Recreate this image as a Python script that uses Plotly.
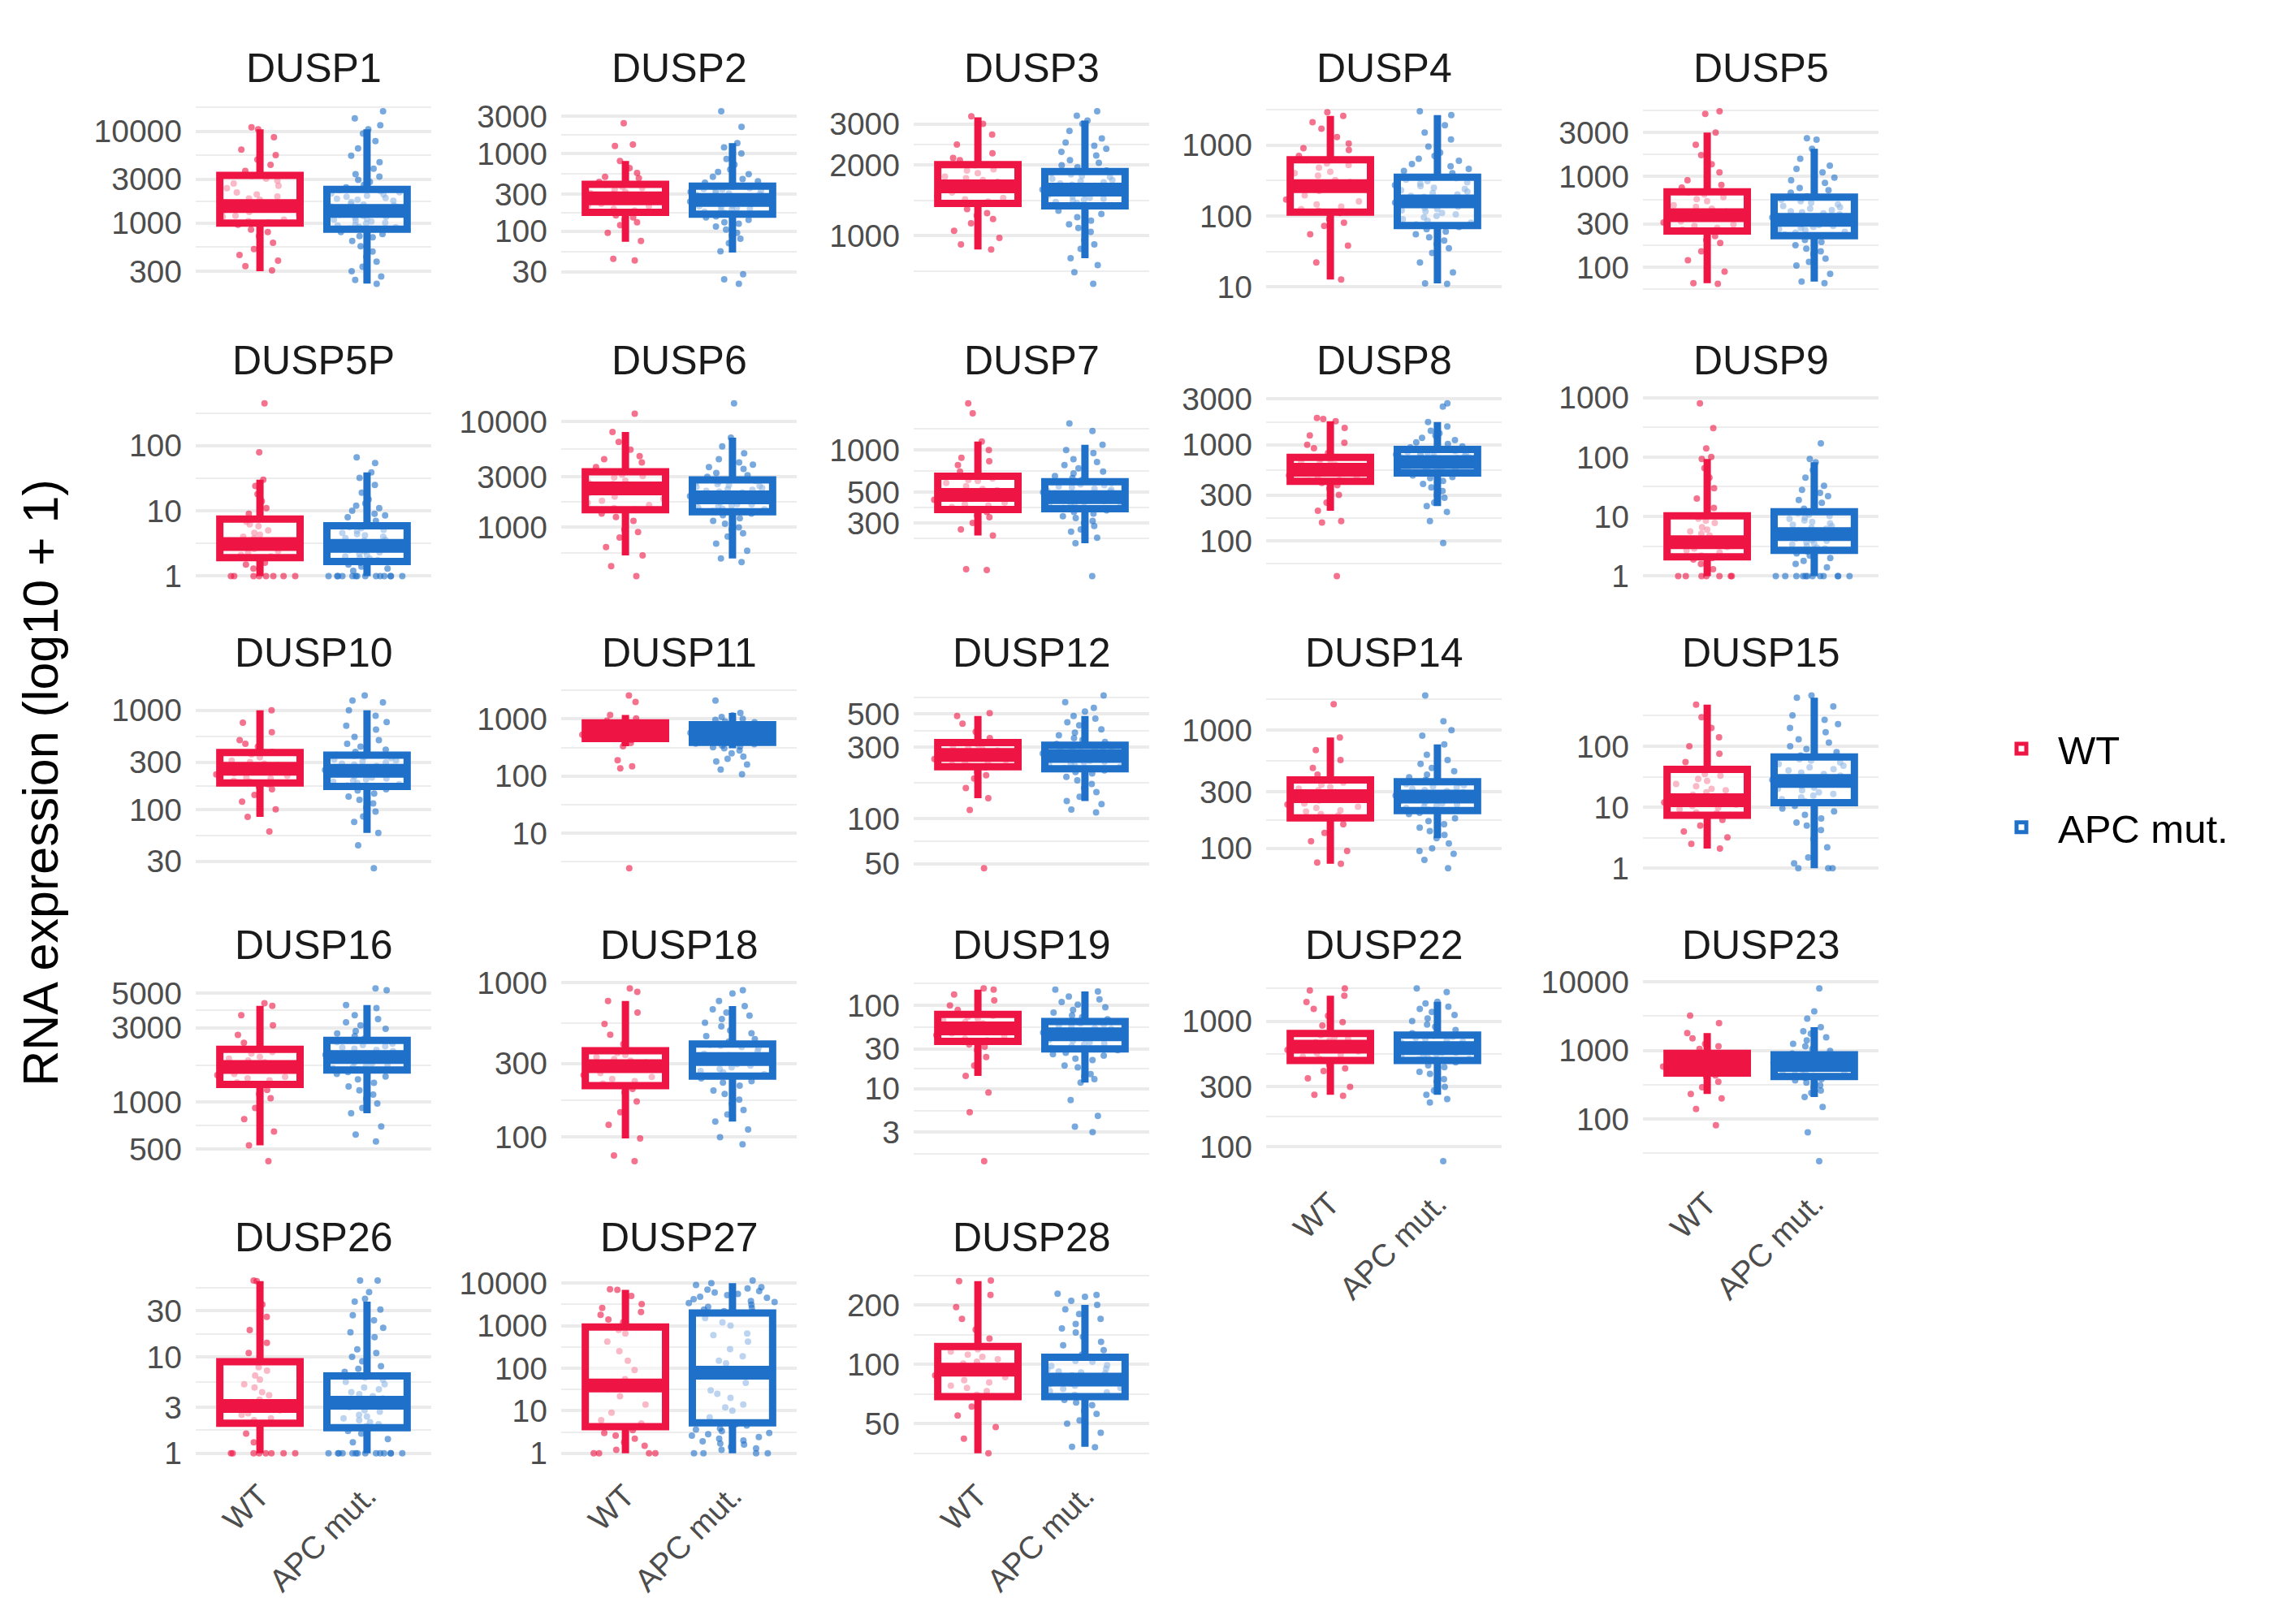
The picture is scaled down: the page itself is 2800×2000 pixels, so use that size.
import math
import plotly.graph_objects as go

# facet panels, in facet order
genes = ['DUSP1', 'DUSP2', 'DUSP3', 'DUSP4', 'DUSP5',
         'DUSP5P', 'DUSP6', 'DUSP7', 'DUSP8', 'DUSP9',
         'DUSP10', 'DUSP11', 'DUSP12', 'DUSP14', 'DUSP15',
         'DUSP16', 'DUSP18', 'DUSP19', 'DUSP22', 'DUSP23',
         'DUSP26', 'DUSP27', 'DUSP28']

groups = ['WT', 'APC mut.']

# y axis breaks per panel
y_breaks = [
    [300, 1000, 3000, 10000], [30, 100, 300, 1000, 3000], [1000, 2000, 3000],
    [10, 100, 1000], [100, 300, 1000, 3000],
    [1, 10, 100], [1000, 3000, 10000], [300, 500, 1000],
    [100, 300, 1000, 3000], [1, 10, 100, 1000],
    [30, 100, 300, 1000], [10, 100, 1000], [50, 100, 300, 500],
    [100, 300, 1000], [1, 10, 100],
    [500, 1000, 3000, 5000], [100, 300, 1000], [3, 10, 30, 100],
    [100, 300, 1000], [100, 1000, 10000],
    [1, 3, 10, 30], [1, 10, 100, 1000, 10000], [50, 100, 200],
]

# box statistics: lower whisker, q1, median, q3, upper whisker
wt_box = [
    [300, 1000, 1530, 3300, 10500], [73, 175, 265, 400, 800], [874, 1376, 1626, 2010, 3200],
    [12.7, 113, 262, 619, 2575], [67, 250, 373, 671, 3000],
    [1, 1.92, 3.1, 7.5, 30], [543, 1464, 2330, 3340, 7950], [244, 374, 476, 649, 1150],
    [206, 417, 548, 740, 1760], [1, 2.1, 3.7, 10.3, 93],
    [84, 185, 257, 375, 1000], [333, 455, 600, 855, 1170], [137, 222, 266, 322, 485],
    [74, 181, 277, 380, 867], [2.1, 7.4, 13, 41.7, 480],
    [530, 1300, 1683, 2180, 4130], [98, 215, 288, 362, 760], [14.2, 37, 53, 78, 155],
    [259, 486, 627, 796, 1594], [232, 468, 658, 907, 1794],
    [1, 2.05, 3.1, 8.9, 61], [1, 4.2, 39, 930, 6960], [35.4, 68.5, 94, 123, 264],
]
apc_box = [
    [220, 860, 1355, 2330, 10500], [53, 166, 252, 380, 1360], [802, 1343, 1575, 1880, 3100],
    [11.2, 73, 160, 351, 2640], [70, 223, 331, 589, 1990],
    [1, 1.67, 2.9, 5.9, 39], [508, 1400, 1920, 2800, 7000], [215, 380, 460, 593, 1090],
    [230, 508, 661, 893, 1720], [1, 2.7, 5.05, 12, 82],
    [58, 171, 245, 352, 1000], [307, 390, 560, 790, 1270], [131, 215, 262, 309, 485],
    [122, 209, 274, 366, 760], [1, 11.9, 26.9, 66.5, 625],
    [850, 1606, 1945, 2490, 4180], [126, 248, 320, 400, 705], [11.8, 30, 44.9, 64, 147],
    [259, 486, 610, 775, 1425], [210, 416, 612, 864, 2180],
    [1, 1.84, 3.35, 6.35, 37.5], [1, 5.2, 78, 1976, 10000], [38.2, 68.5, 83.6, 108.5, 200],
]

# individual samples (estimated from the jittered points)
wt_points = [
    [305, 340, 390, 450, 520, 610, 720, 850, 960, 1020, 1090, 1170, 1240, 1320, 1420, 1500, 1580, 1680,
     1790, 1950, 2150, 2400, 2700, 3050, 3250, 3700, 4300, 4900, 5500, 6300, 8600, 10500, 11000,
     1050, 1200, 1350, 1460, 1620, 1850, 2050, 2550, 2900, 800],
    [42, 44, 75, 95, 120, 140, 160, 178, 195, 210, 225, 240, 255, 270, 285, 300, 320, 345, 370, 395,
     430, 480, 560, 650, 800, 1250, 1300, 2450, 185, 215, 250, 262, 278, 310, 360, 150, 130, 500],
    [874, 920, 980, 1050, 1130, 1220, 1300, 1380, 1430, 1480, 1530, 1580, 1630, 1680, 1730, 1790, 1850,
     1920, 2000, 2100, 2250, 2450, 2700, 3000, 3230, 1400, 1450, 1550, 1600, 1700, 1760, 1900, 1250,
     2150, 1180],
    [12.7, 22, 38, 55, 72, 90, 110, 125, 145, 170, 195, 225, 255, 280, 320, 370, 420, 480, 550, 610,
     700, 850, 1050, 1300, 1700, 2100, 2575, 2900, 118, 135, 160, 210, 240, 300, 400, 520, 80, 900],
    [66, 67, 90, 120, 150, 185, 220, 250, 270, 295, 320, 345, 365, 385, 410, 440, 480, 530, 590, 660,
     750, 900, 1100, 1350, 1700, 2200, 3000, 4800, 5140, 260, 285, 310, 355, 395, 460, 560, 630, 200,
     800],
    [1, 1, 1, 1, 1, 1, 1.3, 1.6, 1.9, 2.1, 2.3, 2.6, 2.9, 3.1, 3.4, 3.8, 4.3, 5.0, 5.8, 6.8, 7.5, 9,
     11, 14, 18, 24, 30, 79, 446, 1, 1, 2.0, 2.4, 2.8, 3.3, 4.0, 4.6, 6.2, 1.5],
    [347, 430, 543, 650, 800, 950, 1150, 1350, 1480, 1620, 1780, 1950, 2100, 2250, 2400, 2550, 2750,
     2950, 3150, 3350, 3700, 4100, 4700, 5400, 6400, 7950, 11800, 1520, 1700, 1860, 2180, 2330, 2650,
     3050, 1250, 4400, 900],
    [138, 140, 244, 270, 300, 330, 360, 380, 400, 420, 440, 460, 480, 500, 525, 550, 580, 610, 645,
     700, 780, 880, 1000, 1150, 1830, 2160, 390, 410, 450, 470, 490, 515, 600, 625, 340, 830],
    [43, 155, 160, 206, 250, 300, 350, 400, 425, 450, 480, 510, 540, 570, 600, 640, 690, 740, 820, 920,
     1050, 1250, 1500, 1760, 1850, 1900, 430, 460, 500, 530, 560, 620, 670, 710, 380, 1000],
    [1, 1, 1, 1, 1, 1.3, 1.6, 1.9, 2.2, 2.5, 2.9, 3.3, 3.7, 4.2, 4.8, 5.6, 6.6, 7.8, 9.2, 10.3, 14, 20,
     30, 45, 65, 93, 100, 140, 306, 800, 1, 1, 2.0, 2.7, 3.1, 3.5, 4.0, 5.2, 6.0, 8.5],
    [60, 84, 100, 120, 140, 160, 180, 195, 210, 225, 240, 255, 270, 290, 310, 335, 360, 380, 430, 500,
     600, 750, 1000, 190, 205, 218, 232, 248, 262, 280, 300, 170, 460],
    [2.46, 137, 148, 190, 333, 380, 430, 460, 490, 520, 550, 580, 610, 640, 680, 720, 770, 820, 860,
     930, 1020, 1170, 1970, 2570, 470, 500, 530, 565, 595, 625, 660, 700, 750, 400],
    [46.6, 114, 137, 160, 185, 205, 220, 230, 240, 250, 260, 270, 280, 292, 305, 320, 345, 380, 430,
     485, 506, 225, 235, 245, 255, 265, 275, 285, 298, 312, 195],
    [74, 76, 95, 115, 135, 160, 180, 195, 210, 225, 240, 255, 270, 285, 300, 320, 345, 375, 420, 480,
     560, 680, 867, 1660, 190, 205, 220, 235, 250, 265, 280, 310, 330, 360],
    [2.1, 2.5, 3.2, 4.0, 5.0, 6.2, 7.4, 8.2, 9.2, 10.5, 12, 13.5, 15, 17.5, 20, 24, 29, 35, 41, 55, 75,
     100, 140, 200, 300, 480, 8, 9.8, 11, 12.5, 14, 16, 19, 22, 27, 33],
    [420, 530, 650, 780, 920, 1060, 1200, 1300, 1380, 1450, 1520, 1600, 1680, 1760, 1850, 1950, 2050,
     2170, 2400, 2700, 3100, 3600, 4130, 4300, 1340, 1420, 1490, 1560, 1640, 1720, 1800, 1900, 2100,
     1130],
    [70, 76, 98, 120, 145, 170, 195, 215, 230, 245, 260, 275, 290, 305, 320, 340, 360, 400, 460, 540,
     640, 760, 870, 916, 222, 238, 252, 268, 282, 298, 312, 330, 350, 205],
    [1.35, 5.2, 9, 14.2, 19, 24, 29, 34, 37, 40, 44, 48, 52, 56, 61, 66, 72, 78, 88, 100, 115, 135,
     155, 160, 38, 42, 46, 50, 54, 58, 63, 69, 75, 32],
    [255, 259, 300, 350, 400, 450, 486, 520, 555, 590, 625, 660, 700, 745, 796, 880, 980, 1100, 1250,
     1420, 1594, 1750, 1820, 500, 540, 575, 610, 640, 680, 720, 770, 420, 920],
    [81, 140, 200, 232, 290, 350, 410, 468, 510, 555, 600, 650, 700, 760, 830, 907, 1050, 1250, 1500,
     1794, 2500, 3220, 480, 530, 580, 625, 675, 730, 790, 870, 430, 1150],
    [1, 1, 1, 1, 1, 1, 1.3, 1.6, 2.05, 2.3, 2.6, 2.9, 3.1, 3.6, 4.3, 5.2, 6.4, 7.8, 8.9, 11, 14, 19,
     26, 35, 61, 62, 1, 1, 2.2, 2.5, 2.8, 3.4, 4.0, 4.8, 5.8, 7.2],
    [1, 1, 1, 1.5, 2.2, 3, 4.2, 6, 9, 14, 22, 32, 39, 55, 90, 150, 250, 420, 650, 930, 1400, 2100,
     3200, 5000, 6960, 7200, 1, 1.2, 1.8, 2.6, 3.5, 5, 800, 1200, 1800, 2600],
    [35.4, 42, 48, 55, 61, 68.5, 73, 78, 83, 88, 93, 98, 103, 109, 116, 123, 135, 150, 170, 195, 225,
     264, 266, 70, 76, 81, 86, 91, 96, 101, 106, 112, 119],
]
apc_points = [
    [218, 240, 262, 300, 335, 380, 430, 490, 560, 640, 720, 800, 870, 910, 960, 1010, 1060, 1110, 1170,
     1230, 1280, 1330, 1380, 1430, 1490, 1550, 1620, 1700, 1790, 1880, 1990, 2100, 2220, 2320, 2600,
     2950, 3400, 3900, 4600, 5400, 6500, 7800, 9400, 10500, 11600, 13800, 16500,
     900, 940, 990, 1040, 1090, 1140, 1200, 1260, 1310, 1360, 1410, 1460, 1520, 1590, 1660, 1750, 1840,
     1940, 2050, 2160, 2280, 700, 760, 2450, 2800, 3200],
    [21, 24, 28, 55, 70, 88, 105, 125, 140, 155, 168, 178, 190, 200, 210, 220, 230, 240, 250, 258, 268,
     280, 292, 305, 320, 335, 350, 365, 380, 420, 470, 540, 620, 720, 850, 1000, 1200, 1360, 2200, 3500,
     172, 182, 195, 205, 215, 225, 235, 245, 254, 262, 274, 286, 298, 312, 328, 343, 358, 372, 150, 130,
     115, 440, 500, 580, 95, 80],
    [624, 700, 750, 802, 880, 960, 1040, 1120, 1200, 1280, 1340, 1380, 1410, 1440, 1470, 1500, 1530,
     1560, 1590, 1620, 1650, 1690, 1730, 1780, 1830, 1880, 1960, 2050, 2150, 2280, 2420, 2600, 2800,
     3000, 3100, 3250, 3400, 1350, 1395, 1425, 1455, 1485, 1515, 1545, 1575, 1605, 1635, 1670, 1710,
     1750, 1800, 1850, 1900, 1240, 1160, 1080, 2000, 2100, 2200, 920, 2350, 2500],
    [11, 11.2, 16, 22, 30, 40, 50, 60, 70, 76, 85, 95, 105, 115, 125, 135, 148, 160, 172, 185, 200, 220,
     240, 262, 285, 310, 340, 360, 400, 460, 540, 640, 780, 950, 1200, 1500, 1900, 2640, 3000,
     74, 80, 90, 100, 110, 120, 130, 142, 154, 166, 178, 192, 210, 230, 250, 272, 298, 325, 350, 45, 55,
     65, 430, 500, 600, 35, 700],
    [67, 70, 85, 105, 125, 150, 175, 200, 225, 240, 255, 270, 285, 300, 315, 330, 345, 360, 380, 400,
     425, 455, 490, 530, 570, 600, 660, 740, 840, 960, 1100, 1300, 1550, 1990, 2500, 2600,
     230, 245, 262, 278, 292, 308, 322, 338, 352, 370, 390, 412, 440, 470, 510, 550, 585, 160, 190, 140,
     115, 700, 780, 900, 1200],
    [1, 1, 1, 1, 1, 1, 1, 1, 1, 1, 1.2, 1.4, 1.6, 1.7, 1.85, 2.0, 2.2, 2.4, 2.6, 2.8, 3.0, 3.2, 3.5,
     3.8, 4.2, 4.6, 5.1, 5.6, 6.0, 7, 8.5, 10, 12, 15, 19, 25, 32, 39, 54, 66,
     1, 1, 1, 1, 1.75, 1.9, 2.1, 2.3, 2.5, 2.7, 2.9, 3.1, 3.3, 3.6, 4.0, 4.4, 4.9, 5.4, 5.8, 1.5, 1.3,
     6.5, 8, 9, 11, 13],
    [470, 508, 600, 700, 820, 950, 1080, 1220, 1350, 1420, 1500, 1570, 1640, 1720, 1800, 1870, 1940,
     2010, 2090, 2170, 2260, 2350, 2450, 2560, 2680, 2800, 3000, 3250, 3550, 3900, 4400, 5000, 5800,
     7000, 14800, 1430, 1480, 1540, 1600, 1660, 1750, 1830, 1900, 1970, 2050, 2130, 2210, 2300, 2400,
     2500, 2620, 2740, 1300, 1150, 1000, 3100, 3400, 3700, 4100, 880],
    [125, 215, 235, 260, 285, 310, 335, 360, 385, 400, 415, 430, 445, 460, 475, 490, 505, 520, 540, 560,
     580, 595, 630, 680, 740, 820, 920, 1000, 1090, 1370, 1550, 382, 392, 408, 422, 438, 452, 468, 482,
     497, 512, 528, 548, 568, 588, 370, 350, 325, 300, 270, 610, 650, 700, 780, 860, 950],
    [95, 160, 230, 280, 330, 390, 450, 500, 515, 530, 545, 560, 575, 590, 605, 620, 635, 650, 665, 680,
     695, 710, 725, 740, 755, 770, 785, 800, 820, 840, 860, 880, 940, 1020, 1120, 1250, 1400, 1720,
     2500, 2700, 520, 550, 580, 610, 640, 670, 700, 730, 760, 790, 830, 870, 900, 480, 460, 420, 360,
     300, 960, 1060, 1180, 1320, 1550, 250, 200],
    [1, 1, 1, 1, 1, 1, 1, 1, 1.4, 1.8, 2.2, 2.6, 2.9, 3.2, 3.5, 3.9, 4.3, 4.7, 5.1, 5.6, 6.2, 6.9, 7.7,
     8.6, 9.6, 10.8, 12, 15, 19, 25, 33, 45, 60, 82, 93, 170, 1, 1, 1, 1, 2.8, 3.0, 3.4, 3.7, 4.0, 4.5,
     4.9, 5.3, 5.8, 6.5, 7.3, 8.1, 9.1, 10.2, 11.4, 2.4, 2.0, 1.6, 13.5, 17, 22, 28],
    [25.6, 43.6, 58, 75, 95, 115, 135, 155, 170, 180, 190, 200, 210, 220, 230, 240, 250, 262, 275, 290,
     305, 320, 340, 355, 400, 460, 540, 640, 760, 880, 1000, 1200, 1250, 1410, 175, 185, 195, 205, 215,
     225, 235, 245, 256, 268, 282, 297, 312, 330, 348, 160, 145, 125, 105, 85, 380, 430, 500, 590, 700],
    [108, 130, 160, 200, 250, 307, 340, 370, 395, 420, 445, 470, 495, 520, 545, 570, 600, 630, 660,
     690, 720, 760, 800, 870, 960, 1080, 1270, 2100, 400, 410, 430, 455, 480, 505, 530, 555, 580, 610,
     640, 670, 700, 740, 780, 820, 360, 330, 320, 900, 1000, 1150, 280, 220, 180],
    [110, 115, 131, 150, 170, 190, 205, 215, 222, 230, 237, 244, 251, 258, 265, 272, 280, 288, 296, 305,
     315, 335, 360, 395, 440, 485, 550, 600, 665, 218, 226, 233, 240, 247, 254, 261, 268, 276, 284,
     292, 300, 310, 325, 345, 210, 200, 180, 160, 140, 375, 420, 465, 520, 125],
    [68, 80, 90, 95, 122, 140, 160, 180, 200, 210, 220, 230, 240, 250, 260, 270, 280, 292, 305, 320,
     335, 350, 365, 400, 450, 520, 620, 760, 1000, 1190, 1970, 212, 225, 235, 245, 255, 265, 275, 286,
     298, 312, 328, 342, 358, 195, 170, 150, 130, 110, 380, 420, 480, 560, 680, 100, 900],
    [1, 1, 1.5, 2.2, 3.0, 4.2, 5.6, 7.5, 9.5, 11.9, 13.5, 15.5, 17.5, 20, 22.5, 25, 28, 31, 35, 40, 45,
     51, 58, 66, 80, 100, 130, 170, 230, 320, 450, 625, 680, 1, 12.5, 14.5, 16.5, 19, 21, 24, 26.5,
     29.5, 33, 37, 42, 48, 54, 61, 70, 10.5, 8.5, 6.5, 5, 90, 115, 150, 200, 270, 1.2],
    [560, 620, 700, 850, 980, 1120, 1260, 1400, 1520, 1610, 1680, 1740, 1800, 1860, 1920, 1980, 2050,
     2120, 2200, 2280, 2370, 2480, 2650, 2850, 3100, 3400, 3800, 4180, 5200, 5350, 1620, 1650, 1710,
     1770, 1830, 1890, 1950, 2010, 2080, 2160, 2240, 2320, 2420, 1560, 1460, 1330, 1190, 1050, 2550,
     2750, 2950, 3250, 3600, 4000, 920],
    [90, 100, 126, 150, 175, 200, 225, 248, 262, 276, 290, 304, 318, 332, 346, 360, 375, 390, 400, 430,
     470, 520, 580, 640, 705, 850, 890, 255, 268, 283, 297, 311, 325, 339, 353, 367, 382, 395, 240, 230,
     215, 190, 165, 140, 415, 450, 490, 550, 610, 670, 112, 760],
    [3, 3.5, 4.7, 7.3, 11.8, 15, 19, 23, 27, 30, 32.5, 35, 37.5, 40, 43, 46, 49, 52, 55, 59, 64, 72, 82,
     95, 110, 128, 147, 155, 31, 34, 36, 38.5, 41, 44, 47, 50, 53.5, 57, 61, 63, 29, 26, 22, 18, 14, 68,
     76, 88, 102, 118, 135, 13, 25],
    [77, 225, 240, 259, 300, 345, 395, 445, 486, 510, 535, 560, 585, 610, 635, 660, 690, 720, 750, 775,
     850, 940, 1050, 1180, 1300, 1425, 1700, 1820, 495, 520, 545, 570, 595, 620, 645, 675, 705, 735,
     765, 470, 430, 380, 330, 280, 800, 900, 1000, 1120, 1250, 1380, 500, 560, 650],
    [24.4, 64, 150, 210, 260, 310, 365, 416, 450, 485, 520, 555, 590, 625, 665, 705, 750, 800, 864, 980,
     1150, 1400, 1750, 2180, 2900, 3700, 8000, 425, 465, 500, 535, 570, 605, 640, 685, 725, 775, 830,
     400, 380, 340, 290, 240, 900, 1050, 1250, 1550, 1900, 600, 650, 700, 550],
    [1, 1, 1, 1, 1, 1, 1, 1, 1, 1, 1.3, 1.6, 1.84, 2.0, 2.2, 2.4, 2.7, 3.0, 3.35, 3.7, 4.1, 4.6, 5.2,
     5.8, 6.35, 7.5, 9, 11, 14, 18, 24, 31, 37.5, 40, 47, 62, 62, 1, 1, 1, 1, 1.7, 1.9, 2.1, 2.3, 2.5,
     2.8, 3.1, 3.5, 3.9, 4.3, 4.8, 5.5, 6.1, 7, 8, 10, 12, 16, 20, 1.4, 27],
    [1, 1, 1.2, 1.4, 1.7, 2, 2.4, 2.8, 3.3, 3.8, 4.5, 5.2, 7, 10, 14, 20, 30, 45, 65, 78, 95, 130, 190,
     280, 420, 650, 1000, 1500, 1976, 2200, 2600, 2900, 3400, 3800, 4500, 5200, 6000, 7000, 8000,
     10000, 11500, 1, 1, 1.3, 1.6, 1.9, 2.2, 2.6, 3.0, 3.6, 4.2, 4.8, 2100, 2400, 2750, 3100, 3600,
     4200, 4800, 5600, 6500, 7500, 9000, 1200, 600, 150, 12, 25],
    [38, 38.2, 45, 52, 58, 64, 68.5, 72, 75, 78, 81, 84, 87, 90, 94, 98, 103, 108.5, 118, 130, 145,
     160, 180, 200, 210, 220, 225, 228, 70, 73, 76, 79, 82, 85, 88, 91, 95, 99, 104, 108, 66, 62, 56,
     50, 112, 125, 138, 152, 170, 190, 86, 80, 92],
]

line_colors = {'WT': '#EE1444', 'APC mut.': '#1E70C8'}
point_colors = {'WT': 'rgba(238,20,68,0.6)', 'APC mut.': 'rgba(30,112,200,0.6)'}
FONT = 'Liberation Sans, Arial, sans-serif'

W, H = 2800, 2000
col_left = [233, 683, 1117, 1551, 2015]
panel_w = 290
row_top = [101, 467, 833, 1200, 1566]
panel_h = 238

n_cols = 5
last_row = {c: max(i // n_cols for i in range(len(genes)) if i % n_cols == c) for c in range(n_cols)}


def lg(vals):
    # values are shown on a log10 scale (like scale_y_log10)
    return [math.log10(v) for v in vals]


fig = go.Figure()
layout = {}
annotations = []

for i, gene in enumerate(genes):
    r, c = divmod(i, n_cols)
    suffix = '' if i == 0 else str(i + 1)
    xa, ya = 'x' + suffix, 'y' + suffix
    sets = [('WT', wt_box[i], wt_points[i]), ('APC mut.', apc_box[i], apc_points[i])]

    # jittered points, drawn first so boxes sit on top
    for g, stats, pts in sets:
        fig.add_trace(go.Box(
            x=[g] * len(pts), y=lg(pts), xaxis=xa, yaxis=ya,
            boxpoints='all', jitter=1, pointpos=0, width=0.85,
            marker=dict(color=point_colors[g], size=8),
            line=dict(width=0), fillcolor='rgba(0,0,0,0)',
            hoverinfo='skip', showlegend=False))

    for g, stats, pts in sets:
        lo, q1, med, q3, hi = lg(stats)
        fig.add_trace(go.Box(
            x=[g], q1=[q1], median=[med], q3=[q3], lowerfence=[lo], upperfence=[hi],
            xaxis=xa, yaxis=ya, boxpoints=False, width=0.75, whiskerwidth=0,
            line=dict(color=line_colors[g], width=9),
            fillcolor='rgba(255,255,255,0.5)',
            name=g, legendgroup=g, showlegend=(i == 0)))
        # fatter median line, as in ggplot
        fig.add_trace(go.Box(
            x=[g], q1=[med], median=[med], q3=[med], lowerfence=[med], upperfence=[med],
            xaxis=xa, yaxis=ya, boxpoints=False, width=0.75, whiskerwidth=0,
            line=dict(color=line_colors[g], width=17), fillcolor='rgba(0,0,0,0)',
            hoverinfo='skip', showlegend=False, legendgroup=g))

    # y range from data, 5% expansion
    vals = lg(wt_points[i] + apc_points[i] + wt_box[i] + apc_box[i])
    l0, l1 = min(vals), max(vals)
    pad = (l1 - l0) * 0.05

    br = lg(y_breaks[i])
    minor = [(a + b) / 2 for a, b in zip(br[:-1], br[1:])]
    minor = [br[0] - (br[1] - br[0]) / 2] + minor + [br[-1] + (br[-1] - br[-2]) / 2]

    x0, x1 = col_left[c], col_left[c] + panel_w
    top = row_top[r]
    layout['xaxis' + suffix] = dict(
        domain=[x0 / W, x1 / W], anchor=ya, type='category',
        categoryorder='array', categoryarray=groups, range=[-0.6, 1.6],
        showgrid=False, zeroline=False, showline=False, ticks='',
        showticklabels=(r == last_row[c]), tickangle=-45, ticklabelstandoff=10,
        tickfont=dict(size=39, color='#4D4D4D', family=FONT))
    layout['yaxis' + suffix] = dict(
        domain=[1 - (top + panel_h) / H, 1 - top / H], anchor=xa,
        range=[l0 - pad, l1 + pad], tickmode='array', tickvals=br,
        ticktext=[str(b) for b in y_breaks[i]], showgrid=True, gridcolor='#EBEBEB', gridwidth=4,
        minor=dict(tickmode='array', tickvals=minor, showgrid=True,
                   gridcolor='#EDEDED', gridwidth=2, ticks=''),
        zeroline=False, showline=False, ticks='', ticklabelstandoff=16,
        tickfont=dict(size=39, color='#4D4D4D', family=FONT))

    annotations.append(dict(
        text=gene, x=(x0 + x1) / 2 / W, y=1 - (top - 43) / H, xref='paper', yref='paper',
        xanchor='center', yanchor='middle', showarrow=False,
        font=dict(size=50, color='#1A1A1A', family=FONT)))

annotations.append(dict(
    text='RNA expression (log10 + 1)', x=42 / W, y=1 - 953 / H, xref='paper', yref='paper',
    xanchor='center', yanchor='middle', textangle=-90, showarrow=False,
    font=dict(size=61, color='#000000', family=FONT)))

fig.update_layout(
    width=W, height=H, margin=dict(l=0, r=0, t=0, b=0),
    paper_bgcolor='white', plot_bgcolor='white', boxmode='overlay',
    font=dict(family=FONT),
    legend=dict(x=2436 / W, xanchor='left', y=0.52, yanchor='middle',
                font=dict(size=49, color='#000000', family=FONT),
                itemwidth=80, bgcolor='rgba(0,0,0,0)', tracegroupgap=30),
    annotations=annotations,
    **layout)

fig.write_html('out.html')
